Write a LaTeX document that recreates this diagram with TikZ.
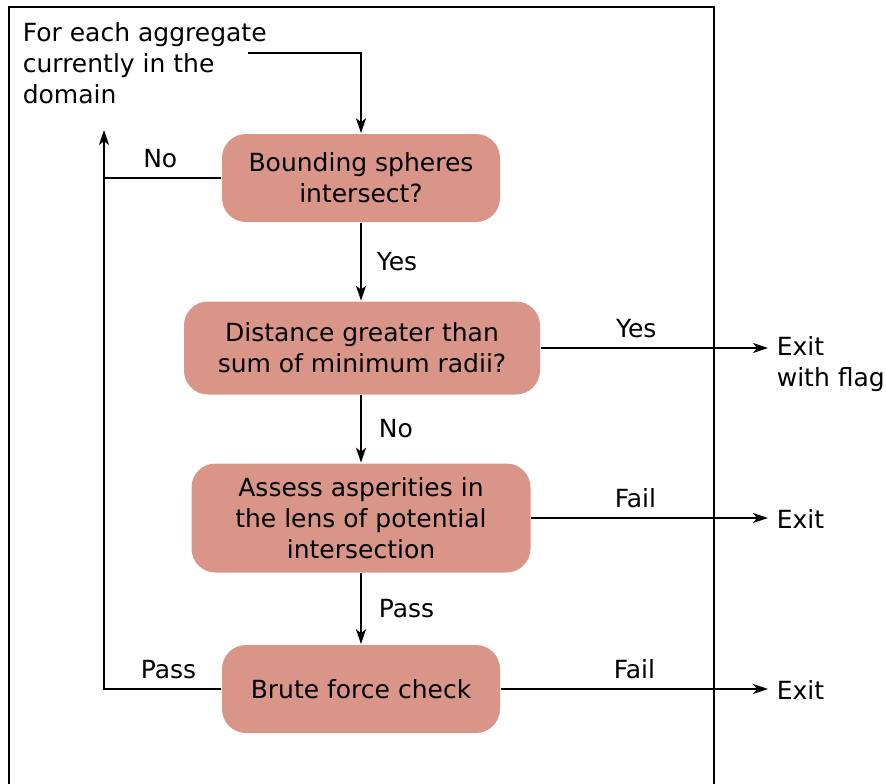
\documentclass[tikz,border=0pt]{standalone}
\usepackage{fontspec}
\setmainfont{DejaVu Sans}
\usetikzlibrary{arrows.meta}
\definecolor{boxpink}{RGB}{217,150,136}
\begin{document}
\begin{tikzpicture}[
    x=1pt, y=-1pt,
    every node/.style={font=\fontsize{25}{31}\selectfont},
    box/.style={fill=boxpink, rounded corners=24pt, align=center, inner sep=0pt},
    lbl/.style={inner sep=0pt},
    arr/.style={-{Stealth[length=15pt,width=10pt,inset=4pt]}},
    line width=1.6pt
]
\useasboundingbox (0,0) rectangle (886,784);

% Frame (open at the bottom)
\draw (9,784) -- (9,7) -- (714,7) -- (714,784);

% Start text
\node[anchor=north west, align=left, inner sep=0pt] (start) at (22,22)
    {For each aggregate\\currently in the\\domain};

% Boxes
\node[box, minimum width=278pt, minimum height=88pt] (b1) at (361,178)
    {Bounding spheres\\intersect?};
\node[box, minimum width=356pt, minimum height=93pt] (b2) at (362,348)
    {Distance greater than\\sum of minimum radii?};
\node[box, minimum width=339pt, minimum height=109pt] (b3) at (361,518)
    {Assess asperities in\\the lens of potential\\intersection};
\node[box, minimum width=278pt, minimum height=88pt] (b4) at (361,689)
    {Brute force check};

% Exits
\node[anchor=west, align=left, inner sep=0pt] (ex1) at (776,364) {Exit\\with flag};
\node[anchor=west, inner sep=0pt] (ex2) at (776,519) {Exit};
\node[anchor=west, inner sep=0pt] (ex3) at (776,690) {Exit};
\coordinate (loop) at (104,130);

% Main flow
\draw[arr] (248,53) -| (b1.north);
\draw[arr] (b1.south) -- node[lbl, right=15pt] {Yes} (b1.south |- b2.north);
\draw[arr] (b1.south |- b2.south) -- node[lbl, right=17pt] {No} (b1.south |- b3.north);
\draw[arr] (b3.south) -- node[lbl, right=17pt] {Pass} (b4.north);

% Back to the loop
\draw (b1.west) -- node[lbl, above=9pt, pos=0.52] {No} (b1.west -| loop);
\draw[arr] (b4.west) -- node[lbl, above=9pt, pos=0.45] {Pass} (b4.west -| loop) -- (loop);

% Exits
\draw[arr] (b2.east) -- node[lbl, above=9pt, pos=0.42] {Yes} ([xshift=-8pt]b2.east -| ex1.west);
\draw[arr] (b3.east) -- node[lbl, above=9pt, pos=0.44] {Fail} ([xshift=-8pt]b3.east -| ex2.west);
\draw[arr] (b4.east) -- node[lbl, above=9pt, pos=0.5] {Fail} ([xshift=-8pt]b4.east -| ex3.west);
\end{tikzpicture}
\end{document}
